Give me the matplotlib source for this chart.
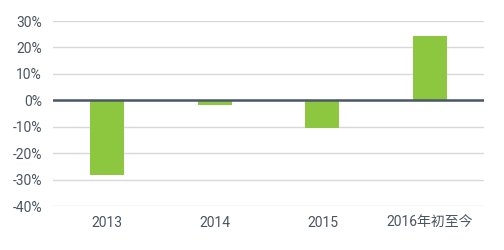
import matplotlib
matplotlib.use('Agg')
import matplotlib.pyplot as plt
from matplotlib.ticker import FuncFormatter

categories = ['2013', '2014', '2015', '2016年初至今']
returns = [-28.2, -1.8, -10.5, 24.3]
y_ticks = [-40, -30, -20, -10, 0, 10, 20, 30]

BAR_COLOR = '#8dc63f'
TEXT_COLOR = '#4a5560'

plt.rcParams['font.family'] = ['Roboto', 'Noto Sans CJK SC', 'DejaVu Sans']

fig = plt.figure(figsize=(5.04, 2.5), dpi=100)
ax = fig.add_axes([53 / 504, 44 / 250, 431 / 504, 185 / 250])

x = range(len(categories))
ax.bar(x, returns, width=0.315, color=BAR_COLOR, zorder=3)
ax.axhline(0, color='#4a5866', linewidth=1.8, zorder=4)

ax.set_xlim(-0.5, len(categories) - 0.5)
ax.set_ylim(-40, 30)
ax.set_yticks(y_ticks)
ax.yaxis.set_major_formatter(FuncFormatter(lambda v, _: f'{v:.0f}%'))
ax.set_xticks(list(x))
ax.set_xticklabels(categories)

ax.grid(True, axis='y', color='#d9d9d9', linewidth=1.0, zorder=0)
for s in ax.spines.values():
    s.set_visible(False)
ax.tick_params(length=0, labelsize=10, colors=TEXT_COLOR, pad=8)
ax.tick_params(axis='x', pad=7)

fig.savefig('out.png', dpi=100)
